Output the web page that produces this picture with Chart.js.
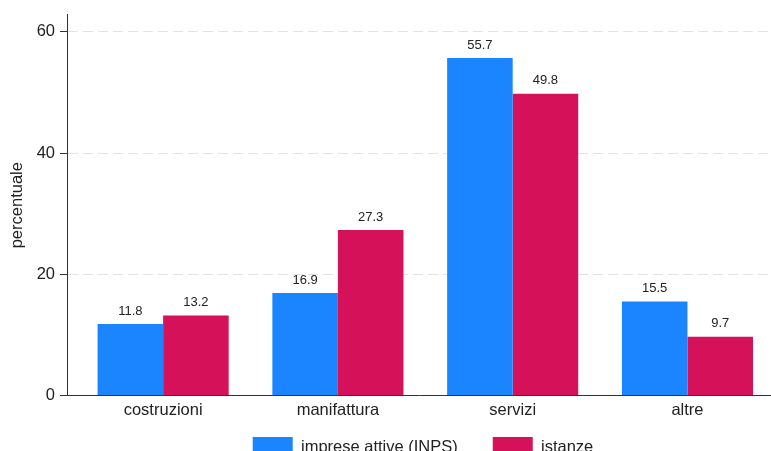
<!DOCTYPE html>
<html>
<head>
<meta charset="utf-8">
<script src="https://cdn.jsdelivr.net/npm/chart.js@4"></script>
<style>
  html, body { margin: 0; padding: 0; background: #fff; overflow: hidden; }
  #wrap { width: 771px; height: 451px; overflow: hidden; }
</style>
</head>
<body>
<div id="wrap"><canvas id="chart" width="771" height="490"></canvas></div>
<script>
// data
const categories = ['costruzioni', 'manifattura', 'servizi', 'altre'];
const imprese = [11.8, 16.9, 55.7, 15.5];
const istanze = [13.2, 27.3, 49.8, 9.7];
const yTicks = [0, 20, 40, 60];

const FONT = '"Liberation Sans", Arial, Helvetica, sans-serif';
const TEXT = '#222';

// value labels above each bar
const valueLabels = {
    id: 'valueLabels',
    afterDatasetsDraw(chart) {
        const ctx = chart.ctx;
        ctx.save();
        ctx.font = '13px ' + FONT;
        ctx.fillStyle = TEXT;
        ctx.textAlign = 'center';
        ctx.textBaseline = 'middle';
        chart.data.datasets.forEach((ds, di) => {
            chart.getDatasetMeta(di).data.forEach((bar, i) => {
                ctx.fillText(ds.data[i].y.toFixed(1), bar.x, bar.y - 13);
            });
        });
        ctx.restore();
    }
};

// pull the legend up closer to the axis labels, and a bit to the right
const legendShift = {
    id: 'legendShift',
    afterLayout(chart) {
        const lg = chart.legend;
        lg.top -= 23; lg.bottom -= 23;
        lg.left += 4; lg.right += 4;
    }
};

const ctx = document.getElementById('chart').getContext('2d');
new Chart(ctx, {
    type: 'bar',
    data: {
        datasets: [{
            label: 'imprese attive (INPS)',
            data: categories.map((c, i) => ({ x: i, y: imprese[i] })),
            backgroundColor: '#1a85ff',
            borderWidth: 0,
            categoryPercentage: 0.75,
            barPercentage: 1
        }, {
            label: 'istanze',
            data: categories.map((c, i) => ({ x: i, y: istanze[i] })),
            backgroundColor: '#d41159',
            borderWidth: 0,
            categoryPercentage: 0.75,
            barPercentage: 1
        }]
    },
    options: {
        responsive: false,
        animation: false,
        devicePixelRatio: 1,
        layout: { padding: { top: 14, left: 0, right: 0, bottom: 0 } },
        scales: {
            x: {
                type: 'linear',
                offset: false,
                min: -0.55,
                max: 3.478,
                afterBuildTicks: s => { s.ticks = categories.map((c, i) => ({ value: i })); },
                afterFit: s => { s.height = 29.5; },
                grid: { display: false, drawTicks: false },
                border: { display: true, color: '#333', width: 1 },
                ticks: {
                    autoSkip: false,
                    maxRotation: 0,
                    padding: 5,
                    color: TEXT,
                    font: { family: FONT, size: 16.5 },
                    callback: v => categories[v]
                }
            },
            y: {
                min: 0,
                max: 62.8,
                afterBuildTicks: s => { s.ticks = yTicks.map(v => ({ value: v })); },
                afterFit: s => { s.width = 67; },
                grid: {
                    color: c => (c.tick && c.tick.value === 0) ? 'rgba(0,0,0,0)' : '#e3e3e3',
                    lineWidth: 1,
                    drawTicks: true,
                    tickLength: 7,
                    tickColor: '#333',
                    tickBorderDash: []
                },
                border: { display: true, color: '#333', width: 1, dash: [10, 5] },
                ticks: {
                    padding: 5,
                    color: TEXT,
                    font: { family: FONT, size: 16.5 }
                },
                title: {
                    display: true,
                    text: 'percentuale',
                    color: TEXT,
                    font: { family: FONT, size: 16.5 },
                    padding: { top: 8, bottom: 0 }
                }
            }
        },
        plugins: {
            legend: {
                position: 'bottom',
                fullSize: false,
                labels: {
                    boxWidth: 40,
                    boxHeight: 20,
                    padding: 35,
                    color: TEXT,
                    font: { family: FONT, size: 16.5 }
                }
            },
            tooltip: { enabled: false }
        }
    },
    plugins: [valueLabels, legendShift]
});
</script>
</body>
</html>
